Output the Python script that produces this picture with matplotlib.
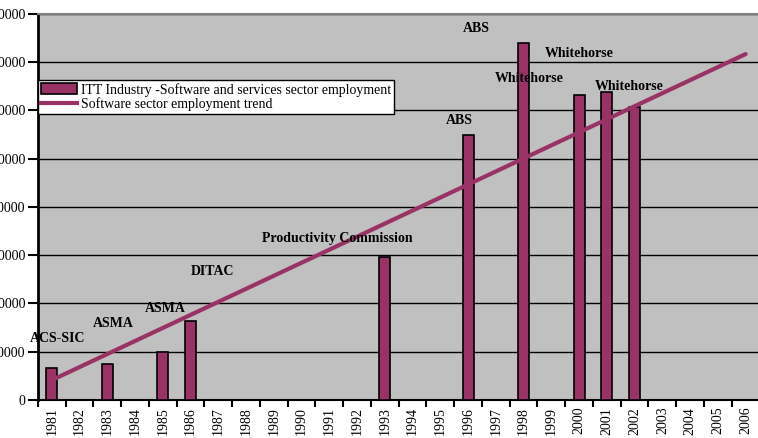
import matplotlib
matplotlib.use("Agg")
import matplotlib.pyplot as plt
from matplotlib.ticker import FixedLocator, NullFormatter
import matplotlib.patches as mpatches
import matplotlib.lines as mlines

plt.rcParams["font.family"] = ["Liberation Serif", "DejaVu Serif"]

# ── data ───────────────────────────────────────────────────────────────
years = list(range(1981, 2007))
bar_years = [1981, 1983, 1985, 1986, 1993, 1996, 1998, 2000, 2001, 2002]
bar_values = [6700, 7500, 10000, 16400, 29700, 54900, 74000, 63200, 63800, 60700]
trend_years = [1981, 2006]
trend_values = [4100, 71700]
y_ticks = [0, 10000, 20000, 30000, 40000, 50000, 60000, 70000, 80000]

# source labels: (text, year position, value position)
label_text = ["ACS-SIC", "ASMA", "ASMA", "DITAC", "Productivity Commission",
              "ABS", "ABS", "Whitehorse", "Whitehorse", "Whitehorse"]
label_x = [1981.2, 1983.2, 1985.1, 1986.8, 1991.3,
           1996.3, 1995.7, 1998.2, 2000.0, 2001.8]
label_y = [12800, 15900, 19000, 26700, 33500,
           77000, 57900, 66700, 71800, 65000]

# ── figure ─────────────────────────────────────────────────────────────
fig = plt.figure(figsize=(7.58, 4.38), dpi=100)
ax = fig.add_axes([0.050, 0.087, 0.952, 0.881])
ax.set_facecolor("#c0c0c0")

idx = {y: i for i, y in enumerate(years)}
bx = [idx[y] for y in bar_years]
ax.bar(bx, bar_values, width=0.4, color="#993366", edgecolor="black",
       linewidth=1.2, zorder=3)
ax.plot([idx[y] for y in trend_years], trend_values, color="#993366",
        linewidth=3, solid_capstyle="round", zorder=4)

for t, x, y in zip(label_text, label_x, label_y):
    ax.text(x - 1981, y, t, fontsize=10, fontweight="bold", color="black",
            ha="center", va="center", zorder=5)

ax.set_xlim(-0.5, len(years) - 0.5)
ax.set_ylim(0, 80000)
ax.set_yticks(y_ticks)
ax.set_yticklabels([str(v) for v in y_ticks], fontsize=10)
ax.yaxis.grid(True, color="black", linewidth=1)
ax.set_axisbelow(True)

ax.set_xticks(range(len(years)))
ax.set_xticklabels([str(y) for y in years], rotation=90, fontsize=10)
ax.xaxis.set_minor_locator(FixedLocator([i + 0.5 for i in range(-1, len(years))]))
ax.xaxis.set_minor_formatter(NullFormatter())
ax.tick_params(axis="x", which="major", length=0, pad=5)
ax.tick_params(axis="x", which="minor", length=5, width=1.5, direction="out")
ax.tick_params(axis="y", length=7, width=1.5, direction="out", pad=2)

ax.spines["left"].set_linewidth(2)
ax.spines["bottom"].set_linewidth(1.5)
ax.spines["top"].set_color("#808080")
ax.spines["top"].set_linewidth(1.5)
ax.spines["right"].set_visible(False)

legend_handles = [
    mpatches.Patch(facecolor="#993366", edgecolor="black", linewidth=1.2,
                   label="ITT Industry -Software and services sector employment"),
    mlines.Line2D([], [], color="#993366", linewidth=3,
                  label="Software sector employment trend"),
]
leg = ax.legend(handles=legend_handles, loc="upper left",
                bbox_to_anchor=(0.0, 0.829), fontsize=10, frameon=True,
                fancybox=False, borderpad=0.2, labelspacing=0.05,
                handlelength=2.6, handleheight=0.8, handletextpad=0.3,
                borderaxespad=0)
leg.get_frame().set_edgecolor("black")
leg.get_frame().set_facecolor("white")
leg.get_frame().set_linewidth(1)
leg.get_frame().set_alpha(1)

fig.savefig("out.png", dpi=100)
